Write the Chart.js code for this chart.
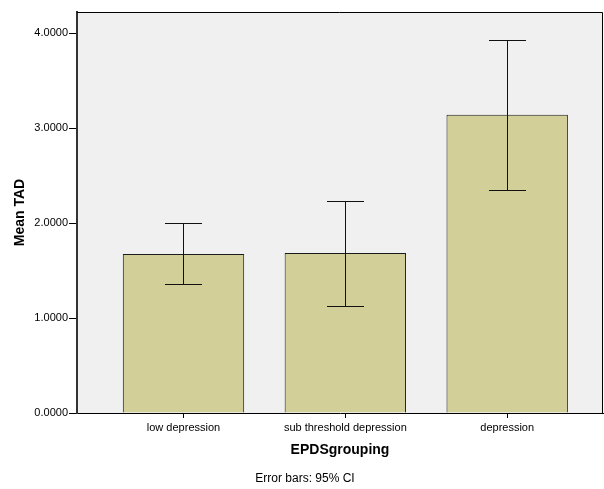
<!DOCTYPE html>
<html>
<head>
<meta charset="utf-8">
<script src="https://cdn.jsdelivr.net/npm/chart.js@4.4.1/dist/chart.umd.min.js"></script>
<style>
  html, body { margin: 0; padding: 0; background: #ffffff; }
  #wrap { width: 604px; height: 489px; position: relative; }
</style>
</head>
<body>
<div id="wrap"><canvas id="c" width="604" height="489"></canvas></div>
<script>
const categories = ["low depression", "sub threshold depression", "depression"];
const meanValues = [1.676, 1.687, 3.142];
const ciLower = [1.354, 1.132, 2.351];
const ciUpper = [1.997, 2.235, 3.932];
const yTickValues = [0, 1, 2, 3, 4];
const xTitle = "EPDSgrouping";
const yTitle = "Mean TAD";
const footnote = "Error bars: 95% CI";

const FONT = "'Liberation Sans', Arial, sans-serif";

const bgPlugin = {
  id: 'bg',
  beforeDraw(chart) {
    const {ctx, chartArea: a} = chart;
    ctx.save();
    ctx.fillStyle = '#f0f0f0';
    ctx.fillRect(a.left, a.top, a.right - a.left, a.bottom - a.top);
    ctx.restore();
  },
  afterDraw(chart) {
    const {ctx, chartArea: a} = chart;
    ctx.save();
    ctx.strokeStyle = '#000';
    ctx.lineWidth = 1;
    ctx.beginPath();
    ctx.moveTo(a.left, a.top + 0.5);
    ctx.lineTo(a.right - 0.5, a.top + 0.5);
    ctx.lineTo(a.right - 0.5, a.bottom);
    ctx.stroke();
    ctx.fillStyle = '#000';
    ctx.font = "12px " + FONT;
    ctx.textAlign = 'center';
    ctx.textBaseline = 'middle';
    ctx.fillText(footnote, 305, 479);
    ctx.restore();
  }
};

const errPlugin = {
  id: 'err',
  afterDatasetsDraw(chart) {
    const {ctx, scales: {x, y}} = chart;
    ctx.save();
    ctx.strokeStyle = '#111';
    ctx.lineWidth = 1;
    for (let i = 0; i < meanValues.length; i++) {
      const px = Math.round(x.getPixelForValue(i)) + 0.5;
      const lo = Math.round(y.getPixelForValue(ciLower[i])) + 0.5;
      const hi = Math.round(y.getPixelForValue(ciUpper[i])) + 0.5;
      ctx.beginPath();
      ctx.moveTo(px, lo); ctx.lineTo(px, hi);
      ctx.moveTo(px - 18.5, lo); ctx.lineTo(px + 18.5, lo);
      ctx.moveTo(px - 18.5, hi); ctx.lineTo(px + 18.5, hi);
      ctx.stroke();
    }
    ctx.restore();
  }
};

new Chart(document.getElementById('c'), {
  type: 'bar',
  data: {
    datasets: [{
      data: meanValues.map((v, i) => ({x: i, y: v})),
      backgroundColor: '#d3cf99',
      borderColor: '#1a1a1a',
      borderWidth: 1,
      borderSkipped: 'bottom',
      barPercentage: 0.75,
      categoryPercentage: 1.0
    }]
  },
  options: {
    responsive: false,
    animation: false,
    devicePixelRatio: 1,
    layout: { padding: { top: 12, right: 1, left: 0, bottom: 0 } },
    plugins: { legend: { display: false }, tooltip: { enabled: false }, title: { display: false } },
    scales: {
      x: {
        type: 'linear',
        offset: false,
        min: -0.658,
        max: 2.592,
        afterBuildTicks(scale) { scale.ticks = categories.map((c, i) => ({value: i})); },
        afterFit(scale) { scale.height = 76; },
        ticks: {
          autoSkip: false,
          maxRotation: 0,
          padding: 3,
          color: '#000',
          font: { family: FONT, size: 11 },
          callback: (v) => categories[v]
        },
        grid: { offset: false, drawOnChartArea: false, drawTicks: true, tickLength: 5, color: '#000' },
        border: { display: true, color: '#000', width: 1 },
        title: {
          display: true,
          text: xTitle,
          color: '#000',
          font: { family: FONT, size: 14, weight: 'bold' },
          padding: { top: 0, bottom: 30 }
        }
      },
      y: {
        min: 0,
        max: 4.225,
        afterBuildTicks(scale) { scale.ticks = yTickValues.map(v => ({value: v})); },
        afterFit(scale) { scale.width = 77; },
        ticks: {
          padding: 1,
          color: '#000',
          font: { family: FONT, size: 11 },
          callback: (v) => Number(v).toFixed(4)
        },
        grid: { drawOnChartArea: false, drawTicks: true, tickLength: 8, color: '#000' },
        border: { display: true, color: '#333', width: 2 },
        title: {
          display: true,
          text: yTitle,
          color: '#000',
          font: { family: FONT, size: 14, weight: 'bold' },
          padding: { top: 12, bottom: 0 }
        }
      }
    }
  },
  plugins: [bgPlugin, errPlugin]
});
</script>
</body>
</html>
